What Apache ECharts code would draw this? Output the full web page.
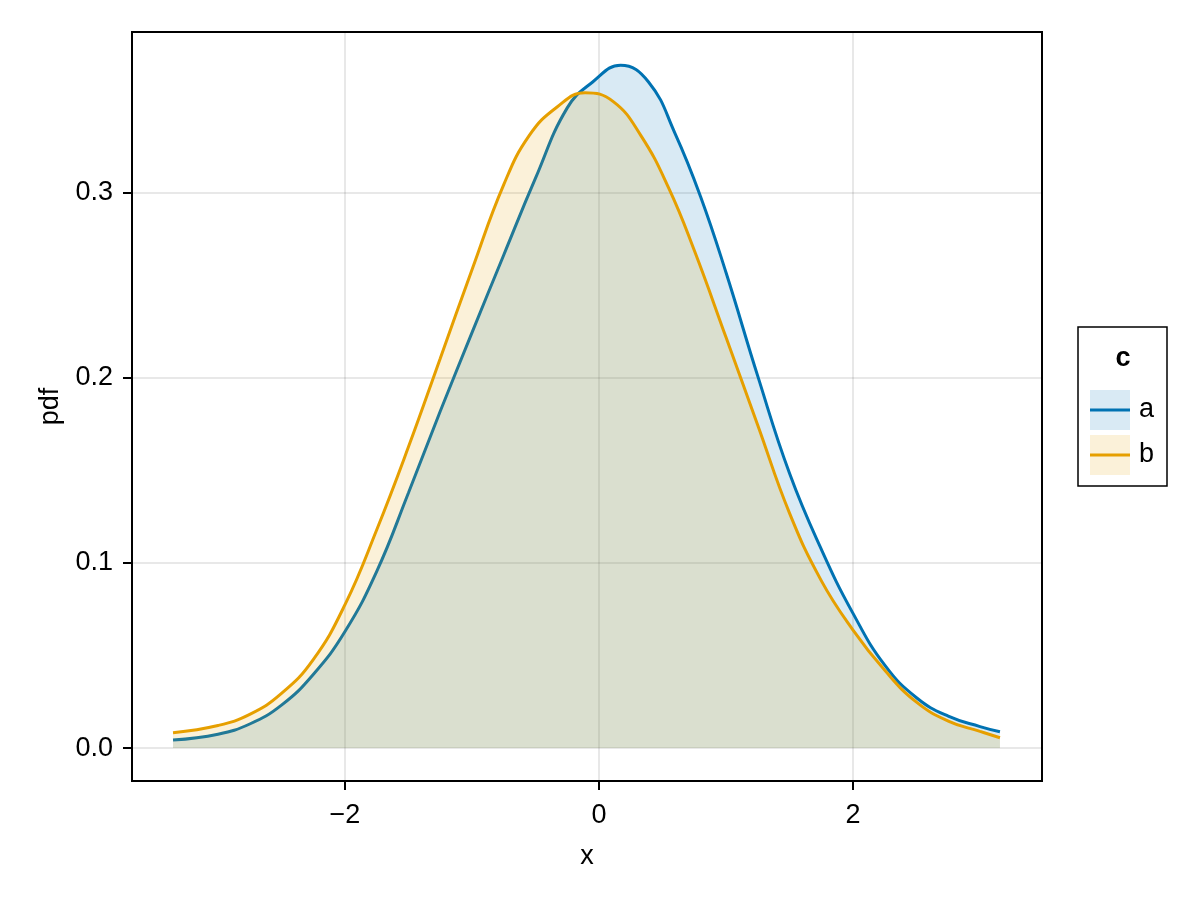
<!DOCTYPE html>
<html>
<head>
<meta charset="utf-8">
<script src="https://cdn.jsdelivr.net/npm/echarts@6/dist/echarts.min.js"></script>
<style>html,body{margin:0;padding:0;background:#fff}#c{width:1200px;height:900px}</style>
</head>
<body>
<div id="c"></div>
<script>
// Series "a" (blue): x positions and pdf values
const xa = [-3.354, -3.0, -2.75, -2.5, -2.25, -2.0, -1.75, -1.5, -1.25, -1.0, -0.75, -0.5, -0.25, -0.05, 0.17, 0.39, 0.6, 0.8, 1.0, 1.25, 1.5, 1.75, 2.0, 2.25, 2.5, 2.75, 3.0, 3.157];
const ya = [0.0043, 0.0075, 0.0130, 0.0232, 0.0398, 0.0630, 0.0955, 0.1380, 0.1820, 0.2245, 0.2665, 0.3080, 0.3460, 0.3600, 0.3690, 0.3600, 0.3320, 0.2980, 0.2570, 0.2010, 0.1485, 0.1075, 0.0728, 0.0448, 0.0272, 0.0172, 0.0116, 0.0088];
// Series "b" (orange)
const xb = [-3.354, -3.0, -2.75, -2.5, -2.25, -2.0, -1.75, -1.5, -1.25, -1.0, -0.75, -0.55, -0.33, -0.11, 0.11, 0.33, 0.55, 0.75, 1.0, 1.25, 1.5, 1.75, 2.0, 2.25, 2.5, 2.75, 3.0, 3.157];
const yb = [0.0083, 0.0122, 0.0182, 0.0295, 0.0478, 0.0775, 0.1180, 0.1628, 0.2106, 0.2585, 0.3045, 0.3310, 0.3465, 0.3542, 0.3495, 0.3310, 0.3025, 0.2690, 0.2220, 0.1745, 0.1270, 0.0905, 0.0638, 0.0420, 0.0248, 0.0146, 0.0090, 0.0056];
const seriesNames = ['a', 'b'];
const legendTitle = 'c';
const xTicks = [-2, 0, 2];
const yTicks = [0.0, 0.1, 0.2, 0.3];
const xName = 'x';
const yName = 'pdf';

const colA = '#0072B2', colB = '#E69F00';
const fillA = 'rgba(0,114,178,0.15)', fillB = 'rgba(230,159,0,0.15)';
const FONT = 'Liberation Sans';
const FS = 27;

function zip(xs, ys){ return xs.map((x,i)=>[x, ys[i]]); }
function fmtX(v){ const s = String(Math.abs(v)); return v < 0 ? '\u2212' + s : s; }

const chart = echarts.init(document.getElementById('c'), null, {renderer:'canvas'});
chart.setOption({
  animation: false,
  backgroundColor: '#fff',
  textStyle: { fontFamily: FONT },
  grid: { left: 132, right: 158, top: 32, bottom: 119, show: true, borderColor: '#000', borderWidth: 2, backgroundColor: 'transparent' },
  xAxis: {
    type: 'value', min: -3.677, max: 3.488,
    name: xName, nameLocation: 'middle', nameGap: 62,
    nameTextStyle: { fontSize: FS, color: '#000', fontFamily: FONT },
    axisLine: { show: false, onZero: false },
    axisTick: { show: true, length: 9, inside: false, lineStyle: { color: '#000', width: 2 }, customValues: xTicks },
    axisLabel: { color: '#000', fontSize: FS, fontFamily: FONT, margin: 21, customValues: xTicks, formatter: fmtX },
    splitLine: { show: true, lineStyle: { color: 'rgba(0,0,0,0.12)', width: 1.5 } }
  },
  yAxis: {
    type: 'value', min: -0.0178, max: 0.387,
    name: yName, nameLocation: 'middle', nameGap: 68, nameRotate: 90,
    nameTextStyle: { fontSize: FS, color: '#000', fontFamily: FONT },
    axisLine: { show: false, onZero: false },
    axisTick: { show: true, length: 9, inside: false, lineStyle: { color: '#000', width: 2 }, customValues: yTicks },
    axisLabel: { color: '#000', fontSize: FS, fontFamily: FONT, margin: 19, customValues: yTicks, formatter: v => v.toFixed(1) },
    splitLine: { show: true, lineStyle: { color: 'rgba(0,0,0,0.12)', width: 1.5 } }
  },
  legend: {
    orient: 'vertical', left: 1090, top: 390, padding: 0,
    itemWidth: 40, itemHeight: 40, itemGap: 5,
    textStyle: { fontSize: FS, color: '#000', fontFamily: FONT, padding: [0,0,0,4] },
    data: [
      { name: seriesNames[0], icon: 'rect', itemStyle: { color: fillA } },
      { name: seriesNames[1], icon: 'rect', itemStyle: { color: fillB } }
    ]
  },
  graphic: [
    { type: 'rect', shape: { x: 1078, y: 327, width: 89, height: 159 }, style: { fill: 'none', stroke: '#000', lineWidth: 1.5 }, z: 100 },
    { type: 'text', x: 1123, y: 359, style: { text: legendTitle, font: 'bold ' + FS + 'px "Liberation Sans"', fill: '#000', align: 'center', verticalAlign: 'middle' }, z: 100 },
    { type: 'line', shape: { x1: 1090, y1: 410, x2: 1130, y2: 410 }, style: { stroke: colA, lineWidth: 3 }, z: 100 },
    { type: 'line', shape: { x1: 1090, y1: 455, x2: 1130, y2: 455 }, style: { stroke: colB, lineWidth: 3 }, z: 100 }
  ],
  series: [
    { name: seriesNames[0], type: 'line', data: zip(xa, ya), smooth: 0.45, showSymbol: false, symbol: 'none',
      lineStyle: { color: colA, width: 3 }, itemStyle: { color: colA }, areaStyle: { color: fillA, origin: 0, opacity: 1 }, z: 2 },
    { name: seriesNames[1], type: 'line', data: zip(xb, yb), smooth: 0.45, showSymbol: false, symbol: 'none',
      lineStyle: { color: colB, width: 3 }, itemStyle: { color: colB }, areaStyle: { color: fillB, origin: 0, opacity: 1 }, z: 3 }
  ]
});
</script>
</body>
</html>
